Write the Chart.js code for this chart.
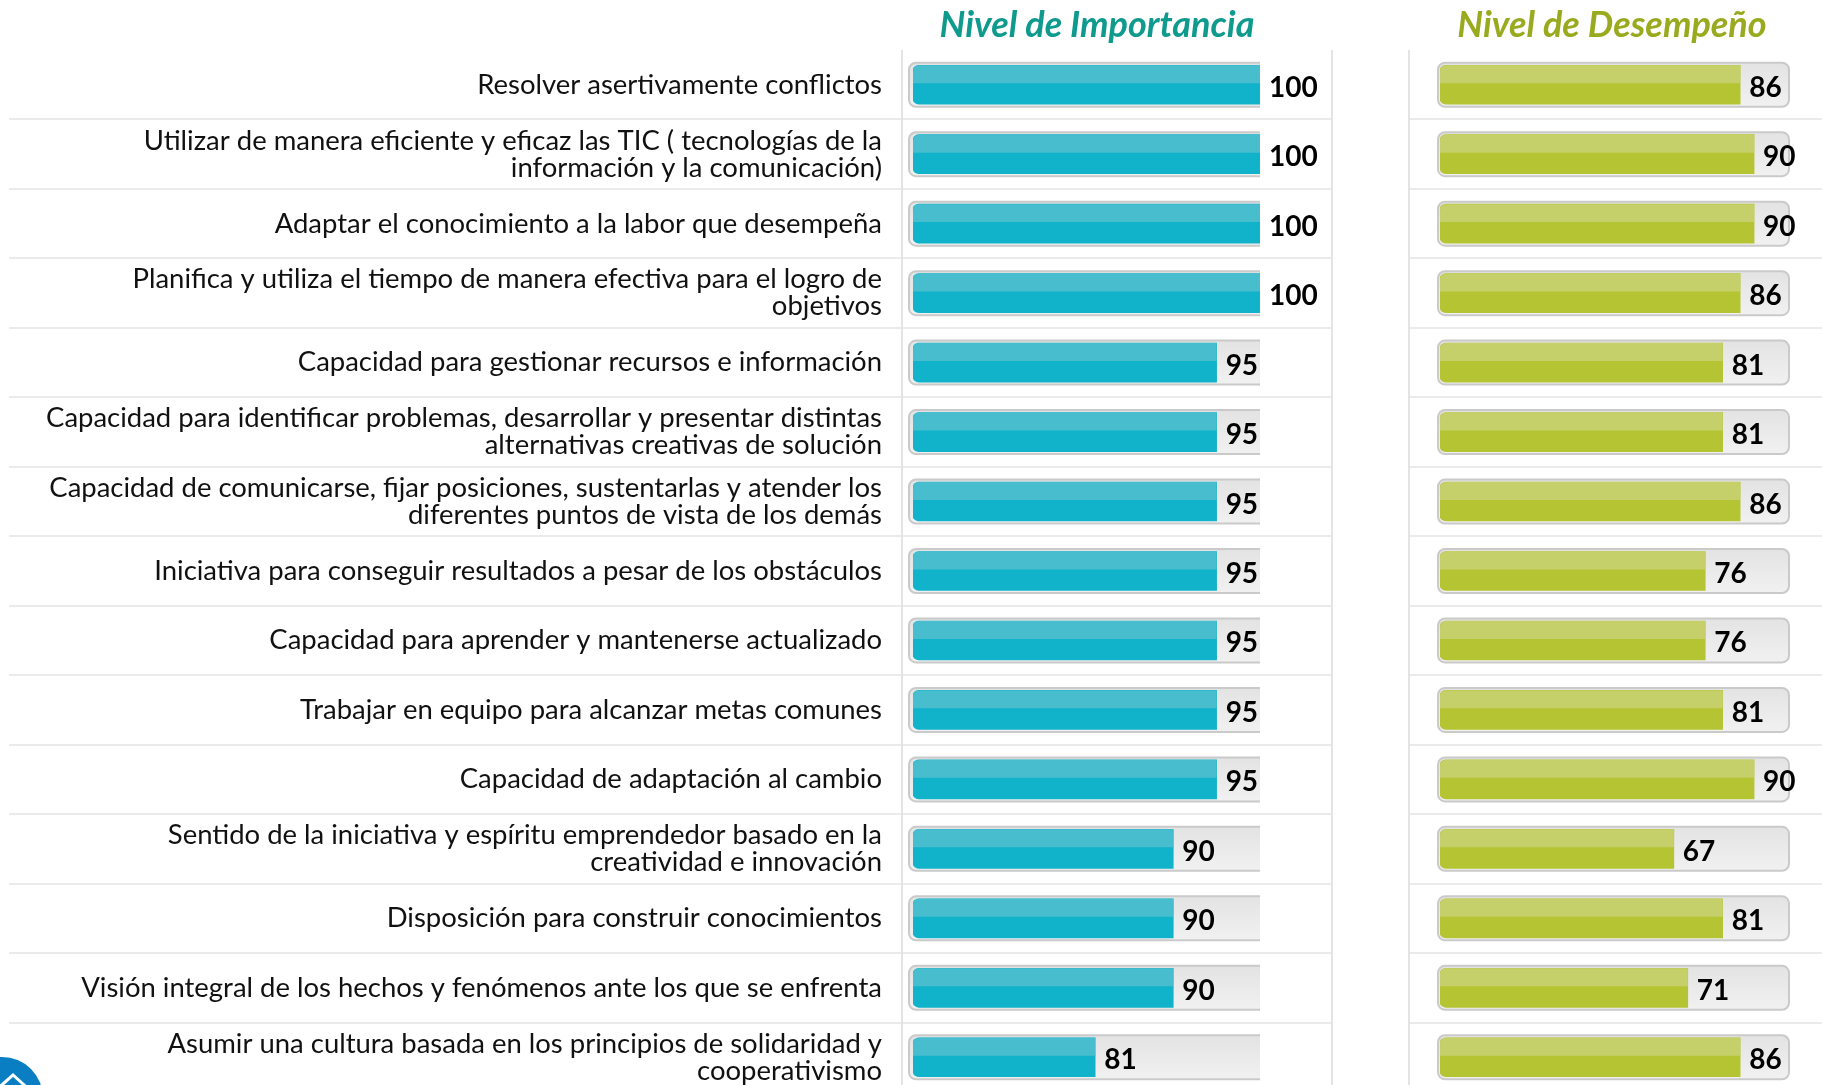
<!DOCTYPE html>
<html>
<head>
<meta charset="utf-8">
<script src="https://cdn.jsdelivr.net/npm/chart.js@4.4.1/dist/chart.umd.min.js"></script>
<style>
html,body{margin:0;padding:0;background:#fff;overflow:hidden;width:1822px;height:1085px;}
canvas{position:absolute;top:0;}
#cImp{left:0}
#cDes{left:1340px}
</style>
</head>
<body>
<canvas id="cImp" width="1340" height="1100"></canvas>
<canvas id="cDes" width="482" height="1100"></canvas>
<script>
/* competencias: importancia vs desempeño */
const COMPETENCIAS = [
  'Resolver asertivamente conflictos',
  ['Utilizar de manera eficiente y eficaz las TIC ( tecnologías de la', 'información y la comunicación)'],
  'Adaptar el conocimiento a la labor que desempeña',
  ['Planifica y utiliza el tiempo de manera efectiva para el logro de', 'objetivos'],
  'Capacidad para gestionar recursos e información',
  ['Capacidad para identificar problemas, desarrollar y presentar distintas', 'alternativas creativas de solución'],
  ['Capacidad de comunicarse, fijar posiciones, sustentarlas y atender los', 'diferentes puntos de vista de los demás'],
  'Iniciativa para conseguir resultados a pesar de los obstáculos',
  'Capacidad para aprender y mantenerse actualizado',
  'Trabajar en equipo para alcanzar metas comunes',
  'Capacidad de adaptación al cambio',
  ['Sentido de la iniciativa y espíritu emprendedor basado en la', 'creatividad e innovación'],
  'Disposición para construir conocimientos',
  'Visión integral de los hechos y fenómenos ante los que se enfrenta',
  ['Asumir una cultura basada en los principios de solidaridad y', 'cooperativismo']
];
const IMPORTANCIA = [100, 100, 100, 100, 95, 95, 95, 95, 95, 95, 95, 90, 90, 90, 81];
const DESEMPENO   = [86, 90, 90, 86, 81, 81, 86, 76, 76, 81, 90, 67, 81, 71, 86];
const TITULO_IMP = 'Nivel de Importancia';
const TITULO_DES = 'Nivel de Desempeño';

const FONT = 'Lato, "Noto Sans", sans-serif';

function fitLabelSize(){
  const c = document.createElement('canvas').getContext('2d');
  c.font = '100px ' + FONT;
  const widest = Math.max(...COMPETENCIAS.flat().map(t => c.measureText(t).width));
  return 100 * 836 / widest;
}
const LABEL_SIZE = fitLabelSize();

// separators, vertical rules and panel title
const rowDeco = {
  id: 'rowDeco',
  beforeDraw(chart, args, o){
    const { ctx } = chart, y = chart.scales.y;
    const step = y.getPixelForValue(1) - y.getPixelForValue(0);
    ctx.save();
    ctx.strokeStyle = '#E4E4E4'; ctx.lineWidth = 1.5;
    for (let i = 1; i < COMPETENCIAS.length; i++){
      const py = Math.round(y.getPixelForValue(i) - step/2);
      ctx.beginPath(); ctx.moveTo(o.lineFrom, py); ctx.lineTo(o.lineTo, py); ctx.stroke();
    }
    ctx.lineWidth = 2;
    for (const vx of o.verticals){
      ctx.beginPath(); ctx.moveTo(vx, chart.chartArea.top); ctx.lineTo(vx, chart.height); ctx.stroke();
    }
    ctx.fillStyle = o.titleColor;
    ctx.font = 'italic bold 36px ' + FONT;
    ctx.textAlign = 'center'; ctx.textBaseline = 'alphabetic';
    ctx.fillText(o.title, o.titleX, 37);
    ctx.restore();
  }
};

// gray rounded track behind every bar
const track = {
  id: 'track',
  beforeDatasetsDraw(chart, args, o){
    const { ctx, chartArea: a } = chart;
    ctx.save();
    ctx.beginPath(); ctx.rect(0, 0, o.clipToArea ? a.right : chart.width, chart.height); ctx.clip();
    for (const bar of chart.getDatasetMeta(0).data){
      const top = bar.y - 22, h = 44;
      const x0 = a.left - o.inset, x1 = a.right + o.extra;
      const g = ctx.createLinearGradient(0, top, 0, top + h);
      g.addColorStop(0, '#E3E3E3'); g.addColorStop(1, '#F1F1F1');
      ctx.beginPath(); ctx.roundRect(x0, top, x1 - x0, h, 7);
      ctx.fillStyle = g; ctx.fill();
      ctx.strokeStyle = '#CACACA'; ctx.lineWidth = 2; ctx.stroke();
    }
    ctx.restore();
  }
};

// lighter upper band + value label
const shine = {
  id: 'shine',
  afterDatasetsDraw(chart, args, o){
    const { ctx, chartArea: a } = chart;
    const ds = chart.data.datasets[0];
    ctx.save();
    chart.getDatasetMeta(0).data.forEach((bar, i) => {
      const { x, y, base, height } = bar.getProps(['x', 'y', 'base', 'height'], true);
      const left = Math.max(base, a.left);
      const top = y - height/2;
      ctx.beginPath(); ctx.roundRect(left, top, x - left, height * 0.46, [6, 0, 0, 0]);
      ctx.fillStyle = o.light; ctx.fill();
      ctx.fillStyle = '#000';
      ctx.font = 'bold 28px ' + FONT;
      ctx.textAlign = 'left'; ctx.textBaseline = 'alphabetic';
      ctx.fillText(ds.data[i], x + 9, y + 12);
    });
    ctx.restore();
  }
};

const logo = {
  id: 'logo',
  afterDraw(chart){
    const { ctx } = chart;
    ctx.save();
    ctx.beginPath(); ctx.arc(2, 1098, 41, 0, Math.PI*2);
    ctx.fillStyle = '#0A7EC2'; ctx.fill();
    ctx.strokeStyle = '#fff'; ctx.lineWidth = 3;
    ctx.beginPath(); ctx.moveTo(-6, 1092); ctx.lineTo(13, 1075); ctx.lineTo(32, 1092); ctx.stroke();
    ctx.restore();
  }
};

function baseConfig(data, dark, light, xMin){
  return {
    type: 'bar',
    data: {
      labels: COMPETENCIAS,
      datasets: [{
        data, base: xMin, backgroundColor: dark, barThickness: 39,
        borderSkipped: false, borderRadius: { topLeft: 6, bottomLeft: 6, topRight: 0, bottomRight: 0 }
      }]
    },
    options: {
      indexAxis: 'y', responsive: false, devicePixelRatio: 1, animation: false, events: [],
      scales: {
        x: { type: 'linear', min: xMin, max: 100, display: false },
        y: { display: false, grid: { display: false } }
      },
      plugins: { legend: { display: false }, tooltip: { enabled: false }, shine: { light } }
    }
  };
}

// Nivel de Importancia (with category labels)
const cfgImp = baseConfig(IMPORTANCIA, '#10B3CA', '#48BDCE', 60);
cfgImp.options.layout = { padding: { top: 50, bottom: 8, left: 0, right: 80 } };
cfgImp.options.scales.y = {
  display: true,
  grid: { display: false, drawTicks: false }, border: { display: false },
  afterFit: s => { s.width = 913; s.paddingTop = 0; s.paddingBottom = 0; },
  ticks: { autoSkip: false, padding: 31, color: '#111', font: { family: FONT, size: LABEL_SIZE, lineHeight: '27px' } }
};
cfgImp.options.plugins.rowDeco = { lineFrom: 9, lineTo: 1332, verticals: [902, 1332], title: TITULO_IMP, titleColor: '#0F9A8E', titleX: 1097 };
cfgImp.options.plugins.track = { inset: 4, extra: 20, clipToArea: true };
cfgImp.plugins = [rowDeco, track, shine, logo];
new Chart(document.getElementById('cImp'), cfgImp);

// Nivel de Desempeño
const cfgDes = baseConfig(DESEMPENO, '#B5C433', '#C5D06A', 0);
cfgDes.options.layout = { padding: { top: 50, bottom: 8, left: 100, right: 33 } };
cfgDes.options.plugins.rowDeco = { lineFrom: 69, lineTo: 482, verticals: [69], title: TITULO_DES, titleColor: '#9AAA1E', titleX: 272 };
cfgDes.options.plugins.track = { inset: 2, extra: 0, clipToArea: false };
cfgDes.plugins = [rowDeco, track, shine];
new Chart(document.getElementById('cDes'), cfgDes);
</script>
</body>
</html>
